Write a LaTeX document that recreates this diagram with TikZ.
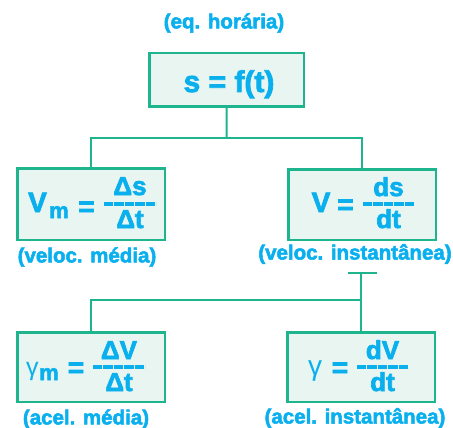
\documentclass[tikz,border=0pt]{standalone}
\usepackage{fontspec}
\setmainfont{Liberation Sans}
\newfontfamily\heavy[FakeBold=2.6]{Liberation Sans Bold}
\definecolor{lgreen}{HTML}{1DB48E}
\definecolor{lfill}{HTML}{E8F5F1}
\definecolor{cyanA}{HTML}{0AB0EE}
\begin{document}
\begin{tikzpicture}[x=1pt,y=-1pt,
  box/.style={draw=lgreen, line width=2.5pt, fill=lfill, inner sep=0pt, outer sep=0pt,
    minimum width=147.5pt, minimum height=71.5pt},
  txt/.style={text=cyanA, font=\heavy\fontsize{28}{28}\selectfont, inner sep=0pt, anchor=base},
  fracpart/.style={txt, font=\heavy\fontsize{26}{26}\selectfont},
  subs/.style={txt, font=\heavy\fontsize{22}{22}\selectfont},
  gam/.style={txt, font=\mdseries\fontsize{26}{26}\selectfont},
  lab/.style={text=cyanA, font=\heavy\fontsize{20.5}{20.5}\selectfont, inner sep=0pt},
  conn/.style={draw=lgreen, line width=2pt},
  fbar/.style={draw=cyanA, line width=3.2pt, dash pattern=on 9.4pt off 1pt}
]
\useasboundingbox (0,0) rectangle (453,428);

% boxes
\node[box, minimum width=154.5pt, minimum height=53.5pt] (top) at (226.5,80) {};
\node[box] (vm) at (91,204) {};
\node[box, minimum height=70.5pt] (v) at (362,204.5) {};
\node[box, minimum height=69.5pt] (gm) at (91,367) {};
\node[box, minimum height=69.5pt] (g) at (361,367) {};

% top text
\node[txt, font=\heavy\fontsize{30}{30}\selectfont] (ts) at (229,92) {s = f(t)};
\node[lab] (leq) at (224,23) {(eq. horária)};

% Vm box
\node[txt] (vmV) at (37.5,212) {V};
\node[subs] (vmm) at (59,218) {m};
\node[txt] (vmeq) at (86.5,216) {=};
\node[fracpart] (vmn) at (130,195) {Δs};
\node[fracpart] (vmd) at (130,228) {Δt};
\coordinate (vmb1) at (104,204);
\coordinate (vmb2) at (156,204);
\draw[fbar] (vmb1) -- (vmb2);
\node[lab] (lvm) at (87,257) {(veloc. média)};

% V box
\node[txt] (vV) at (321,212) {V};
\node[txt] (veq) at (345.5,214) {=};
\node[fracpart] (vn) at (388.5,196) {ds};
\node[fracpart] (vd) at (388.5,228) {dt};
\coordinate (vb1) at (363,204);
\coordinate (vb2) at (414,204);
\draw[fbar] (vb1) -- (vb2);
\node[lab] (lv) at (355,254) {(veloc. instantânea)};

% gamma_m box
\node[gam, font=\mdseries\fontsize{25}{25}\selectfont] (gmg) at (32.5,375) {γ};
\node[subs] (gmm) at (49,380) {m};
\node[txt] (gmeq) at (76,377) {=};
\node[fracpart] (gmn) at (119,359) {ΔV};
\node[fracpart] (gmd) at (119,391) {Δt};
\coordinate (gmb1) at (93,367);
\coordinate (gmb2) at (145,367);
\draw[fbar] (gmb1) -- (gmb2);
\node[lab] (lgm) at (86,419) {(acel. média)};

% gamma box
\node[gam, font=\mdseries\fontsize{28}{28}\selectfont] (gg) at (315,375) {γ};
\node[txt] (geq) at (340,377) {=};
\node[fracpart] (gn) at (382.5,359) {dV};
\node[fracpart] (gd) at (382.5,391) {dt};
\coordinate (gb1) at (357,367);
\coordinate (gb2) at (408,367);
\draw[fbar] (gb1) -- (gb2);
\node[lab] (lg) at (355,418) {(acel. instantânea)};

% connectors
\coordinate (j1) at (226.7,138);
\draw[conn] (top.south) -- (j1);
\draw[conn] (vm.north) -- (vm.north |- j1) -- (v.north |- j1) -- (v.north);
\coordinate (tk1) at (348,273);
\coordinate (tk2) at (377,273);
\coordinate (h2) at (0,300);
\draw[conn] (tk1) -- (tk2);
\draw[conn] (g.north |- tk1) -- (g.north);
\draw[conn] (gm.north) -- (gm.north |- h2) -- (g.north |- h2);
\end{tikzpicture}
\end{document}
